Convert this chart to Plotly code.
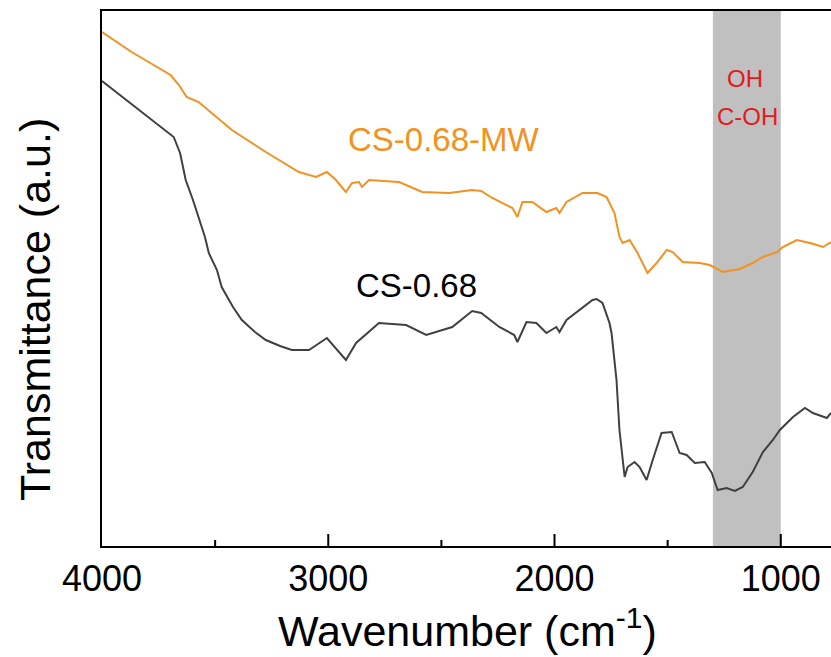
import plotly.graph_objects as go

# CS-0.68 (dark curve)
wn_cs = [4000, 3869, 3683, 3655, 3630, 3598, 3573, 3545, 3528, 3492, 3471, 3421, 3382, 3324,
         3276, 3213, 3161, 3085, 3006, 2922, 2877,
         2776, 2656, 2567, 2452, 2364, 2324, 2244, 2178, 2164, 2124, 2080, 2036, 1992, 1978,
         1947, 1832, 1814, 1788, 1757, 1748, 1726, 1713, 1690, 1677, 1646, 1624, 1593, 1566,
         1527, 1482, 1447, 1416, 1380, 1336, 1305, 1279, 1239, 1203, 1168, 1124, 1079, 1035,
         1004, 946, 893, 858, 796, 778]
t_cs = [465, 442, 409, 393, 366, 346, 329, 309, 293, 276, 259, 239, 226, 214,
        206, 200, 196, 196, 208, 186, 203,
        223, 221, 211, 219, 235, 233, 219, 211, 204, 224, 223, 213, 219, 214,
        226, 246, 247, 243, 223, 213, 166, 116, 69, 79, 84, 79, 66, 86,
        113, 114, 93, 91, 83, 84, 73, 56, 58, 55, 59, 74, 94, 106,
        116, 129, 138, 133, 128, 133]

# CS-0.68-MW (orange curve)
wn_mw = [4000, 3869, 3697, 3660, 3626, 3573, 3426, 3276, 3130, 3054, 3006, 2966, 2922, 2895,
         2864, 2851, 2820, 2687, 2585, 2465, 2364, 2324, 2275, 2186, 2164, 2142, 2098, 2036,
         1992, 1978, 1947, 1876, 1810, 1770, 1735, 1713, 1699, 1668, 1633, 1589, 1549, 1504,
         1478, 1434, 1358, 1314, 1256, 1181, 1124, 1079, 1017, 991, 929, 871, 813, 778]
t_mw = [514, 494, 471, 461, 449, 444, 416, 394, 374, 369, 374, 366, 354, 363,
        364, 359, 366, 364, 354, 353, 356, 355, 348, 338, 329, 344, 344, 334,
        338, 333, 344, 353, 353, 349, 333, 309, 303, 306, 293, 273, 283, 296,
        294, 284, 283, 281, 274, 277, 283, 289, 294, 299, 306, 303, 299, 304]

band = [1300, 1000]
x_range = [4000, 778]
y_range = [0, 535]
major_ticks = [3000, 2000, 1000]
minor_ticks = [3500, 2500, 1500]

FONT = "Liberation Sans, Arial, sans-serif"
ORANGE = "#f39121"
DARK = "#404040"

fig = go.Figure()
fig.add_trace(go.Scatter(x=wn_mw, y=t_mw, mode="lines", line=dict(color=ORANGE, width=2),
                         showlegend=False, hoverinfo="skip"))
fig.add_trace(go.Scatter(x=wn_cs, y=t_cs, mode="lines", line=dict(color=DARK, width=2),
                         showlegend=False, hoverinfo="skip"))

fig.add_shape(type="rect", xref="x", yref="paper", x0=band[0], x1=band[1], y0=0, y1=1,
              fillcolor="#c0c0c0", line=dict(width=0), layer="below")

# inward tick marks on the bottom axis (placed through the x scale)
for v in major_ticks:
    fig.add_shape(type="line", xref="x", yref="y", x0=v, x1=v, y0=y_range[0], y1=12,
                  line=dict(color="black", width=2), layer="above")
for v in minor_ticks:
    fig.add_shape(type="line", xref="x", yref="y", x0=v, x1=v, y0=y_range[0], y1=6,
                  line=dict(color="black", width=2), layer="above")

fig.update_layout(
    width=831, height=657,
    margin=dict(l=102, r=0, t=11, b=111),
    paper_bgcolor="white", plot_bgcolor="white",
    font=dict(family=FONT, color="black"),
    xaxis=dict(range=x_range, tickmode="linear", tick0=0, dtick=1000, ticks="",
               showline=True, linewidth=2, linecolor="black", mirror=True,
               showgrid=False, zeroline=False,
               tickfont=dict(family=FONT, size=36, color="black")),
    yaxis=dict(range=y_range, showline=True, linewidth=2, linecolor="black",
               ticks="", showticklabels=False, showgrid=False, zeroline=False),
    annotations=[
        dict(text="Transmittance (a.u.)", textangle=-90, xref="paper", yref="paper",
             x=-0.092, y=0.443, xanchor="center", yanchor="middle", showarrow=False,
             font=dict(family=FONT, size=43, color="black")),
        dict(text="Wavenumber (cm<sup>-1</sup>)", xref="paper", yref="paper",
             x=0.5007, y=-0.153, xanchor="center", yanchor="middle", showarrow=False,
             font=dict(family=FONT, size=43, color="black")),
        dict(text="CS-0.68-MW", x=2488, y=407, xref="x", yref="y", showarrow=False,
             xanchor="center", yanchor="middle", font=dict(family=FONT, size=33, color=ORANGE)),
        dict(text="CS-0.68", x=2608, y=261, xref="x", yref="y", showarrow=False,
             xanchor="center", yanchor="middle", font=dict(family=FONT, size=33, color="black")),
        dict(text="OH", x=1158, y=468, xref="x", yref="y", showarrow=False,
             xanchor="center", yanchor="middle", font=dict(family=FONT, size=24, color="#e31a1c")),
        dict(text="C-OH", x=1145, y=430, xref="x", yref="y", showarrow=False,
             xanchor="center", yanchor="middle", font=dict(family=FONT, size=24, color="#e31a1c")),
    ],
)

fig.write_html("out.html")
